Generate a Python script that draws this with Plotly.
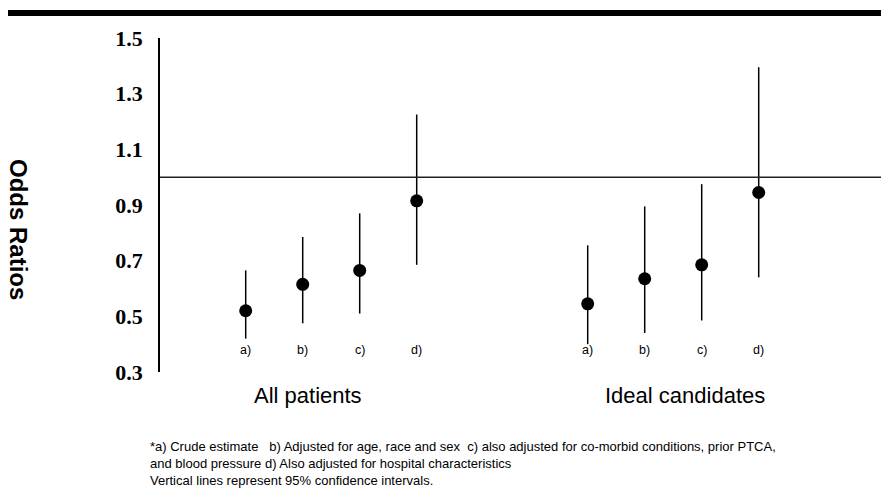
import plotly.graph_objects as go

# ---- data ----
groups = ["All patients", "Ideal candidates"]
model_labels = ["a)", "b)", "c)", "d)"]
or_all = [0.52, 0.615, 0.665, 0.915]
lo_all = [0.42, 0.475, 0.51, 0.685]
hi_all = [0.665, 0.785, 0.87, 1.225]
or_ideal = [0.545, 0.635, 0.685, 0.945]
lo_ideal = [0.40, 0.44, 0.485, 0.64]
hi_ideal = [0.755, 0.895, 0.975, 1.395]
y_ticks = [0.3, 0.5, 0.7, 0.9, 1.1, 1.3, 1.5]
footnote_lines = [
    "*a) Crude estimate   b) Adjusted for age, race and sex  c) also adjusted for co-morbid conditions, prior PTCA,",
    "and blood pressure d) Also adjusted for hospital characteristics",
    "Vertical lines represent 95% confidence intervals.",
]

OFF = 8  # page body margin
W, H = 889 - OFF, 489 - OFF
L, R, T, B = 160 - OFF, 0, 38 - OFF, 117
plot_h = H - T - B
plot_w = W - L - R

def py(px):  # reference pixel y -> paper y
    return (H - B - (px - OFF)) / plot_h

def pxx(px):  # reference pixel x -> paper x
    return (px - OFF - L) / plot_w

SANS = "Liberation Sans, Arial"
fig = go.Figure()
series = [(or_all, lo_all, hi_all), (or_ideal, lo_ideal, hi_ideal)]
annotations = []
for g, (est, lo, hi) in enumerate(series):
    xs = [g * 6 + i + 1 for i in range(len(est))]
    fig.add_trace(go.Scatter(
        x=xs, y=est, mode="markers",
        marker=dict(size=13, color="black"),
        error_y=dict(type="data", symmetric=False,
                     array=[h - e for h, e in zip(hi, est)],
                     arrayminus=[e - l for e, l in zip(est, lo)],
                     color="black", thickness=1.5, width=0),
        showlegend=False, hoverinfo="skip"))
    for x, lab in zip(xs, model_labels):
        annotations.append(dict(x=x, y=py(350), xref="x", yref="paper", text=lab,
                                showarrow=False, xanchor="center", yanchor="middle",
                                font=dict(family=SANS, size=12.5, color="black")))

annotations.append(dict(x=2.1, y=py(396), xref="x", yref="paper", text=groups[0], showarrow=False,
                        xanchor="center", yanchor="middle",
                        font=dict(family=SANS, size=22, color="black")))
annotations.append(dict(x=8.7, y=py(396), xref="x", yref="paper", text=groups[1], showarrow=False,
                        xanchor="center", yanchor="middle",
                        font=dict(family=SANS, size=22, color="black")))
annotations.append(dict(x=pxx(149), y=py(438), xref="paper", yref="paper",
                        text="<br>".join(footnote_lines),
                        showarrow=False, xanchor="left", yanchor="top", align="left",
                        borderpad=0,
                        font=dict(family=SANS, size=13, color="black")))
annotations.append(dict(x=pxx(19), y=py(229), xref="paper", yref="paper", text="<b>Odds Ratios</b>",
                        showarrow=False, textangle=90, xanchor="center", yanchor="middle",
                        borderpad=0,
                        font=dict(family=SANS, size=24, color="black")))

shapes = [
    dict(type="rect", xref="paper", yref="paper", x0=pxx(8), x1=1.01, y0=py(16), y1=py(10),
         fillcolor="black", line=dict(width=0)),
    dict(type="line", xref="paper", yref="y", x0=0, x1=1, y0=1.0, y1=1.0,
         line=dict(color="#222", width=1.5)),
]

x0 = (160 - 188.7) / 57.0
fig.update_layout(
    width=W, height=H,
    margin=dict(l=L, r=R, t=T, b=B),
    paper_bgcolor="white", plot_bgcolor="white",
    xaxis=dict(range=[x0, x0 + plot_w / 57.0], visible=False, showgrid=False, zeroline=False),
    yaxis=dict(range=[0.3, 1.5], tickvals=y_ticks, ticktext=[f"{v:.1f}" for v in y_ticks],
               showgrid=False, zeroline=False, showline=True, linecolor="black", linewidth=1.5,
               ticks="", ticklabelstandoff=11,
               tickfont=dict(family="Liberation Serif, Times New Roman", size=22, color="black", weight="bold")),
    annotations=annotations, shapes=shapes,
)
fig.write_html("out.html")
